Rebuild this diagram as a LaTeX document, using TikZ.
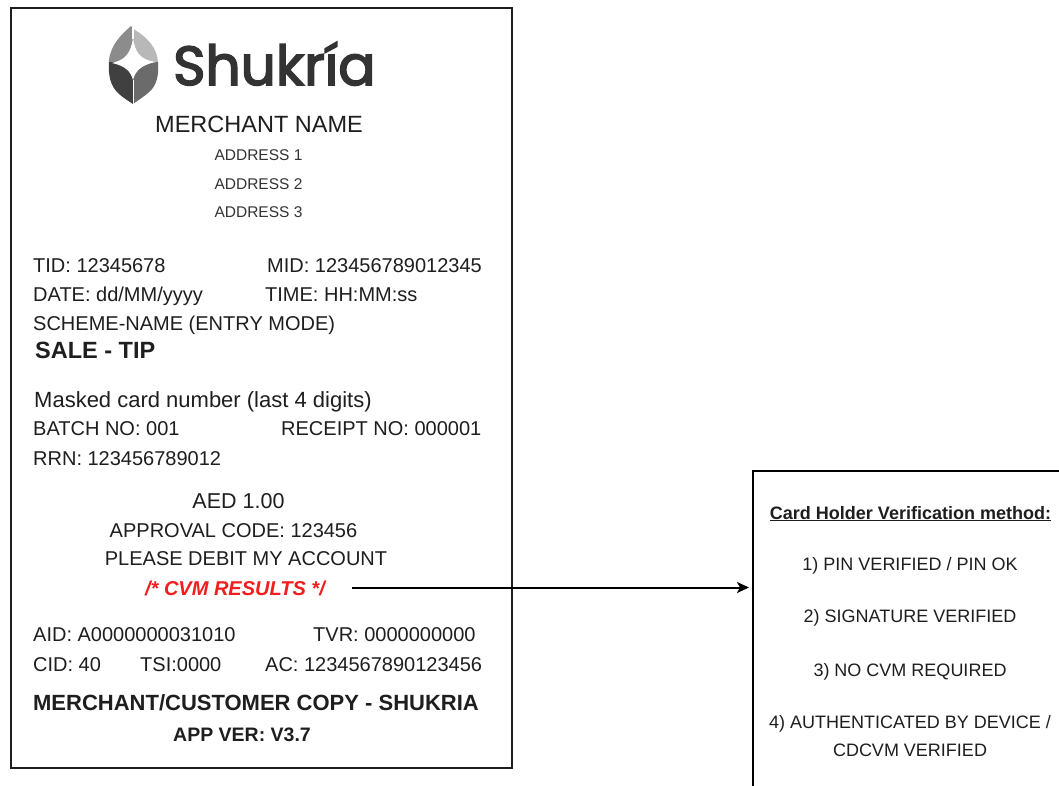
\documentclass[tikz,border=0pt]{standalone}
\usepackage{fontspec}
\setmainfont{Liberation Sans}
\newfontfamily\logofont{Poppins}[FakeBold=3]
\usetikzlibrary{arrows.meta}
\definecolor{ink}{HTML}{1E1E1E}
\definecolor{addr}{HTML}{333333}
\definecolor{cvmred}{HTML}{F01E1E}
\definecolor{logotxt}{HTML}{333333}
\begin{document}
\begin{tikzpicture}[x=1pt,y=-1pt,
  txt/.style={inner sep=0pt, text=ink},
  fA/.style={font=\fontsize{20}{24}\selectfont},
  fB/.style={font=\fontsize{18}{22}\selectfont},
  boxline/.style={draw=ink, line width=1.8pt},
  conn/.style={draw=black, line width=2pt, -{Stealth[length=12pt,width=11pt,inset=3pt]}}]
\useasboundingbox (0,0) rectangle (1059,785);
\fill[white] (0,0) rectangle (1059,785);
\clip (0,0) rectangle (1059,785);

% receipt frame
\node[boxline, rectangle, minimum width=501pt, minimum height=760pt, anchor=north west, inner sep=0pt] (receipt) at (10,7) {};
% cvm box
\node[draw=black, line width=1.6pt, rectangle, minimum width=320pt, minimum height=340pt, anchor=north west, inner sep=0pt] (cvmbox) at (752,470) {};

% logo icon
\begin{scope}
  \path[clip] (131,26) .. controls (122,34) and (111,44) .. (109,60) .. controls (108,75) and (110,86) .. (119,94) .. controls (125,99) and (130,102) .. (133,104) .. controls (137,101) and (142,98) .. (148,93) .. controls (157,86) and (159,75) .. (158,62) .. controls (157,48) and (148,38) .. (135,30) -- cycle;
  \fill[fill=black!45] (100,20) rectangle (133,62);
  \fill[fill=black!28] (133,20) rectangle (170,62);
  \fill[fill=black!75] (100,62) rectangle (133,110);
  \fill[fill=black!58] (133,62) rectangle (170,110);
  \fill[white] (133,38) .. controls (131,52) and (126,60) .. (112,63) .. controls (126,66) and (131,72) .. (133,80) .. controls (135,72) and (140,65) .. (156,62) .. controls (140,60) and (135,52) .. (133,38) -- cycle;
  \draw[white, line width=1.6pt] (133,39) -- (133,24);
  \draw[white, line width=0.6pt] (133,80) -- (133,106);
\end{scope}
\node[inner sep=0pt, anchor=base west, text=logotxt, font=\logofont\fontsize{55}{55}\selectfont] (logo) at (173,85) {Shukría};

% header
\node[txt, anchor=base, font=\fontsize{23.5}{28}\selectfont] (mname) at (259,132) {MERCHANT NAME};
\node[txt, anchor=base, text=addr, font=\fontsize{15.5}{18}\selectfont] (ad1) at (258.5,160.5) {ADDRESS 1};
\node[txt, anchor=base, text=addr, font=\fontsize{15.5}{18}\selectfont] (ad2) at (258.5,189.5) {ADDRESS 2};
\node[txt, anchor=base, text=addr, font=\fontsize{15.5}{18}\selectfont] (ad3) at (258.5,217.5) {ADDRESS 3};

% terminal info
\node[txt, fA, anchor=base west] (tid) at (33,272) {TID: 12345678};
\node[txt, fA, anchor=base west] (mid) at (267,272) {MID: 123456789012345};
\node[txt, fA, anchor=base west] (date) at (33,301) {DATE: dd/MM/yyyy};
\node[txt, fA, anchor=base west] (time) at (265,301) {TIME: HH:MM:ss};
\node[txt, fA, anchor=base west] (scheme) at (33,330) {SCHEME-NAME (ENTRY MODE)};
\node[txt, anchor=base west, font=\bfseries\fontsize{23.5}{28}\selectfont] (sale) at (35,358) {SALE - TIP};
\node[txt, anchor=base west, font=\fontsize{22}{26}\selectfont] (masked) at (34,407) {Masked card number (last 4 digits)};
\node[txt, fA, anchor=base west] (batch) at (33,435) {BATCH NO: 001};
\node[txt, fA, anchor=base west] (rcpt) at (281,435) {RECEIPT NO: 000001};
\node[txt, fA, anchor=base west] (rrn) at (33,465) {RRN: 123456789012};

% amount block
\node[txt, anchor=base, font=\fontsize{21.5}{26}\selectfont] (aed) at (238.5,508) {AED 1.00};
\node[txt, fA, anchor=base] (appr) at (233.5,537) {APPROVAL CODE: 123456};
\node[txt, fA, anchor=base] (debit) at (246,565) {PLEASE DEBIT MY ACCOUNT};
\node[inner sep=0pt, anchor=base, text=cvmred, font=\bfseries\itshape\fontsize{20}{24}\selectfont] (cvm) at (235,595) {/* CVM RESULTS */};

% emv data
\node[txt, fA, anchor=base west] (aid) at (33,641) {AID: A0000000031010};
\node[txt, fA, anchor=base west] (tvr) at (313,641) {TVR: 0000000000};
\node[txt, fA, anchor=base west] (cid) at (33,671) {CID: 40};
\node[txt, fA, anchor=base west] (tsi) at (140,671) {TSI:0000};
\node[txt, fA, anchor=base west] (ac) at (265,671) {AC: 1234567890123456};

% footer
\node[txt, anchor=base, font=\bfseries\fontsize{22}{26}\selectfont] (copy) at (256,710) {MERCHANT/CUSTOMER COPY - SHUKRIA};
\node[txt, anchor=base, font=\bfseries\fontsize{19.5}{24}\selectfont] (ver) at (242,741) {APP VER: V3.7};

% cvm box contents
\node[txt, anchor=base, font=\bfseries\fontsize{18}{22}\selectfont] (cvmhead) at (910.5,519) {\underline{Card Holder Verification method:}};
\node[txt, fB, anchor=base] (c1) at (910,570) {1) PIN VERIFIED / PIN OK};
\node[txt, fB, anchor=base] (c2) at (910,622) {2) SIGNATURE VERIFIED};
\node[txt, fB, anchor=base] (c3) at (910,676) {3) NO CVM REQUIRED};
\node[txt, fB, anchor=base] (c4) at (910,728) {4) AUTHENTICATED BY DEVICE /};
\node[txt, fB, anchor=base] (c5) at (910,756) {CDCVM VERIFIED};

% connector
\coordinate (cvmstart) at (352,587.5);
\draw[conn, shorten >=3pt] (cvmstart) -- (cvmbox.west |- cvmstart);
\end{tikzpicture}
\end{document}
